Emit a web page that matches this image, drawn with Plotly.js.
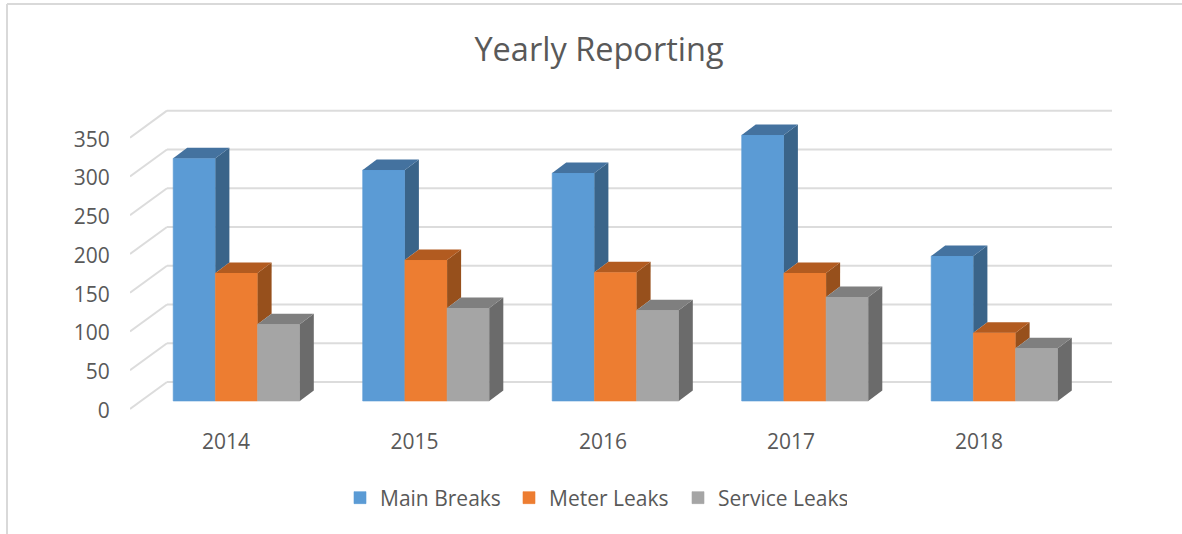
<!DOCTYPE html>
<html>
<head>
<meta charset="utf-8">
<script src="https://cdn.plot.ly/plotly-3.0.1.min.js"></script>
<style>html,body{margin:0;padding:0;background:#fff;overflow:hidden}#chart{width:1182px;height:534px}</style>
</head>
<body>
<div id="chart"></div>
<script>
// ---- data ----
var years = ['2014', '2015', '2016', '2017', '2018'];
var mainBreaks = [313, 298, 294, 343, 187];
var meterLeaks = [165, 182, 166, 165, 88];
var serviceLeaks = [99, 120, 117, 134, 68];
var yTicks = [0, 50, 100, 150, 200, 250, 300, 350];

var seriesNames = ['Main Breaks', 'Meter Leaks', 'Service Leaks'];
var seriesValues = [mainBreaks, meterLeaks, serviceLeaks];
var frontColors = ['#5b9bd5', '#ed7d31', '#a5a5a5'];
var topColors = ['#44729f', '#b25b20', '#7f7f7f'];
var sideColors = ['#3a6489', '#97501c', '#6b6b6b'];

// ---- geometry of the figure (pixels to axis units) ----
var W = 1182, H = 534;
var plotL = 130, plotR = 1112, plotT = 100, plotB = 423;
var pxPerCat = 189.5, pxPerVal = 0.7752;
var firstGroupPx = 236.5, basePx = 401;
var xOf = function (px) { return (px - firstGroupPx) / pxPerCat; };
var yOf = function (px) { return (basePx - px) / pxPerVal; };
var barW = 42.2 / pxPerCat;
var dX = 14 / pxPerCat, dY = 10.5 / pxPerVal;
var frontFloor = yOf(409), backFloor = yOf(382), labelFloor = yOf(410.5);
var backLeft = xOf(167), frontLeft = xOf(130), backRight = xOf(1112);

var traces = [];
// front faces: real bars
seriesNames.forEach(function (name, s) {
  traces.push({
    type: 'bar', name: name, x: years.map(function (_, i) { return i; }),
    y: seriesValues[s], marker: { color: frontColors[s], line: { width: 0.6, color: frontColors[s] } },
    hoverinfo: 'name+y'
  });
});
// side and top faces: built from the same values
seriesNames.forEach(function (name, s) {
  years.forEach(function (_, i) {
    var v = seriesValues[s][i];
    var next = s < 2 ? seriesValues[s + 1][i] : 0;
    var left = i + (s - 1.5) * barW, right = left + barW;
    traces.push({
      type: 'scatter', mode: 'lines', showlegend: false, hoverinfo: 'skip',
      x: [right, right + dX, right + dX, right, right],
      y: [v, v + dY, next + dY, next, v],
      fill: 'toself', fillcolor: sideColors[s], line: { width: 0, color: sideColors[s] }
    });
    traces.push({
      type: 'scatter', mode: 'lines', showlegend: false, hoverinfo: 'skip',
      x: [left, left + dX, right + dX, right, left],
      y: [v, v + dY, v + dY, v, v],
      fill: 'toself', fillcolor: topColors[s], line: { width: 0, color: topColors[s] }
    });
  });
});

// gridlines on the back wall and the side wall
var shapes = [];
var gridLine = { color: '#dcdcdc', width: 2 };
yTicks.forEach(function (t) {
  shapes.push({ type: 'line', layer: 'below', xref: 'x', yref: 'y', x0: backLeft, x1: backRight, y0: t + backFloor, y1: t + backFloor, line: gridLine });
  shapes.push({ type: 'line', layer: 'below', xref: 'x', yref: 'y', x0: frontLeft, x1: backLeft, y0: t + frontFloor, y1: t + backFloor, line: gridLine });
});
// chart-area frame
var frame = { color: '#d9d9d9', width: 2 };
shapes.push({ type: 'line', xref: 'paper', yref: 'paper', x0: 7 / W, x1: 1, y0: 1 - 4 / H, y1: 1 - 4 / H, line: frame });
shapes.push({ type: 'line', xref: 'paper', yref: 'paper', x0: 7 / W, x1: 7 / W, y0: 0, y1: 1 - 4 / H, line: frame });

var labelPx = [226, 414.5, 603, 791, 979];
var textFont = { family: '"Open Sans", sans-serif', size: 21, color: '#595959' };

var layout = {
  width: W, height: H, autosize: false,
  margin: { l: 0, r: 0, t: 0, b: 0 },
  paper_bgcolor: '#fff', plot_bgcolor: 'rgba(0,0,0,0)',
  title: { text: 'Yearly Reporting', x: 599 / W, xanchor: 'center', y: 1 - 49.5 / H, yanchor: 'middle',
           font: { family: '"Open Sans", sans-serif', size: 32.5, color: '#595959' } },
  barmode: 'group', bargap: 1 - 3 * barW, bargroupgap: 0,
  xaxis: {
    domain: [plotL / W, plotR / W], range: [xOf(plotL), xOf(plotR)],
    tickmode: 'array', tickvals: labelPx.map(xOf), ticktext: years,
    showgrid: false, zeroline: false, showline: false, ticks: 'outside', ticklen: 0,
    tickfont: textFont, fixedrange: true
  },
  yaxis: {
    domain: [1 - plotB / H, 1 - plotT / H], range: [yOf(plotB), yOf(plotT)],
    tickmode: 'array', tickvals: yTicks.map(function (t) { return t + labelFloor; }),
    ticktext: yTicks.map(String),
    showgrid: false, zeroline: false, showline: false,
    ticks: 'outside', ticklen: 15, tickcolor: 'rgba(0,0,0,0)',
    tickfont: textFont, fixedrange: true
  },
  legend: {
    orientation: 'h', x: 340 / W, xanchor: 'left', y: 1 - 498 / H, yanchor: 'middle',
    font: textFont, entrywidth: 124, entrywidthmode: 'pixels', bgcolor: 'rgba(0,0,0,0)',
    traceorder: 'normal'
  },
  shapes: shapes,
  showlegend: true
};
Plotly.newPlot('chart', traces, layout, { displayModeBar: false, responsive: false });
</script>
</body>
</html>
